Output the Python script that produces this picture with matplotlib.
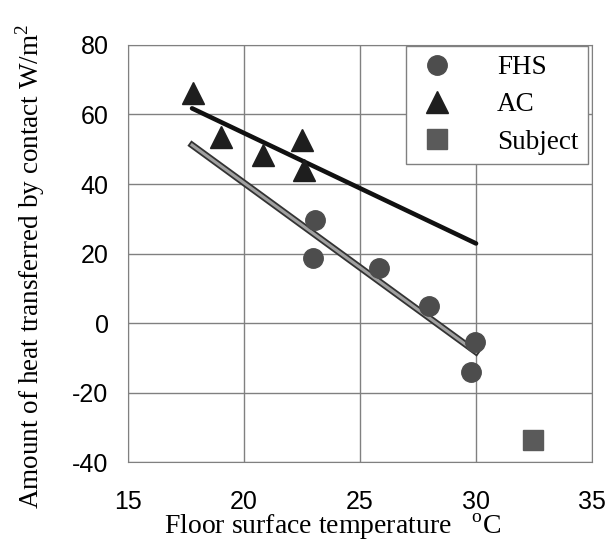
import numpy as np
import matplotlib
matplotlib.use("Agg")
import matplotlib.pyplot as plt
import matplotlib.patheffects as pe

plt.rcParams['axes.unicode_minus'] = False
plt.rcParams['mathtext.fontset'] = 'custom'
plt.rcParams['mathtext.rm'] = 'Liberation Serif'

# FHS points
fhs_x = [23.06, 22.97, 25.82, 27.97, 29.96, 29.78]
fhs_y = [29.6, 18.7, 15.8, 4.9, -5.5, -14.1]
# AC points
ac_x = [17.8, 19.0, 20.8, 22.5, 22.6]
ac_y = [66.2, 53.5, 48.3, 52.7, 44.0]
# subject
subj_x = [32.46]
subj_y = [-33.7]
# range of the regression lines
fit_range = [17.76, 30.0]

fig = plt.figure(figsize=(6.05, 5.46), dpi=100)
ax = fig.add_axes([0.2116, 0.1538, 0.767, 0.7638])

# regression lines
xs = np.array(fit_range)
a, b = np.polyfit(ac_x, ac_y, 1)
ax.plot(xs, a * xs + b, color='#111111', lw=3.3, solid_capstyle='round', zorder=3)
a, b = np.polyfit(fhs_x, fhs_y, 1)
ax.plot(xs, a * xs + b, color='#a0a0a0', lw=2.2, zorder=3,
        path_effects=[pe.Stroke(linewidth=4.8, foreground='#333333'), pe.Normal()])

ax.plot(fhs_x, fhs_y, 'o', ms=14, color='#4d4d4d', label='FHS', zorder=4)
ax.plot(ac_x, ac_y, '^', ms=16, color='#1e1e1e', label='AC', zorder=4)
ax.plot(subj_x, subj_y, 's', ms=14, color='#5a5a5a', label='Subject', zorder=4)

ax.set_xlim(15, 35)
ax.set_ylim(-40, 80)
ax.set_xticks([15, 20, 25, 30, 35])
ax.set_yticks([-40, -20, 0, 20, 40, 60, 80])
ax.grid(True, color='#808080', lw=1)
ax.set_axisbelow(True)
for s in ax.spines.values():
    s.set_color('#808080')
ax.tick_params(length=0, labelsize=18, pad=14)
for lab in ax.get_xticklabels() + ax.get_yticklabels():
    lab.set_fontfamily('Liberation Sans')
ax.tick_params(axis='x', pad=20)

ax.set_xlabel('Floor surface temperature   $^{\\rm o}$C', fontfamily='Liberation Serif',
              fontsize=20)
ax.set_ylabel('Amount of heat transferred by contact W/m$^2$', fontfamily='Liberation Serif',
              fontsize=19.5)
ax.yaxis.set_label_coords(-0.175, 0.47)
ax.xaxis.set_label_coords(0.44, -0.12)

leg = ax.legend(loc='upper right', bbox_to_anchor=(0.991, 0.998), fancybox=False,
                edgecolor='#808080', framealpha=1, prop={'family': 'Liberation Serif', 'size': 19.5},
                labelspacing=0.45, handletextpad=1.4, borderpad=0.35, handlelength=1.6,
                borderaxespad=0)
leg.get_frame().set_linewidth(1)

fig.savefig('out.png', dpi=100)
